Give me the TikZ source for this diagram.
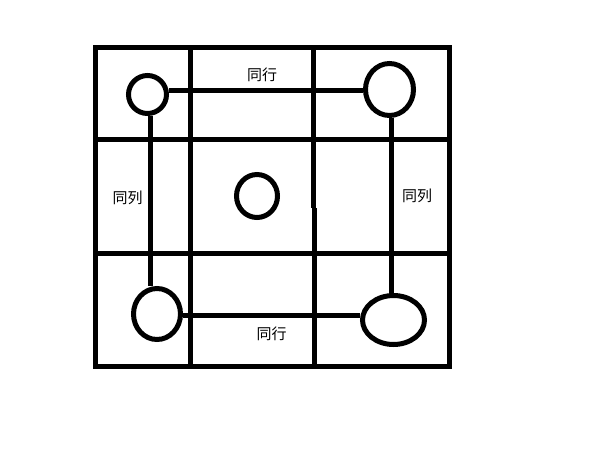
\documentclass[tikz,border=0pt]{standalone}
\usepackage{fontspec}
\newfontfamily\cjk{Noto Sans CJK SC}
\usetikzlibrary{shapes.geometric}
\begin{document}
\begin{tikzpicture}[x=1pt,y=-1pt,
  gridline/.style={line width=5pt},
  ring/.style={draw,ellipse,line width=5pt,inner sep=0pt},
  link/.style={line width=5pt},
  lbl/.style={inner sep=0pt,font=\cjk\fontsize{15}{18}\selectfont}]
\useasboundingbox (0,0) rectangle (613,450);
% grid
\draw[gridline] (95.5,47.5) rectangle (449.5,366.5);
\draw[gridline] (95.5,139.5) -- (449.5,139.5);
\draw[gridline] (95.5,253.5) -- (449.5,253.5);
\draw[gridline] (190.5,47.5) -- (190.5,369);
\draw[gridline] (313.5,47.5) -- (313.5,208);
\draw[gridline] (314.5,208) -- (314.5,366.5);
% rings
\node[ring,minimum width=38pt,minimum height=38pt] (tl) at (147.5,94.5) {};
\node[ring,minimum width=48pt,minimum height=52pt] (tr) at (389.5,89.5) {};
\node[ring,minimum width=41pt,minimum height=43pt] (c) at (257,196) {};
\node[ring,minimum width=47pt,minimum height=51pt] (bl) at (157,314) {};
\node[ring,minimum width=62pt,minimum height=49pt] (br) at (393.5,320) {};
% links
\draw[link] (tl.10) -- (tl.10 -| tr.west);
\draw[link] (tl.-81) -- (tl.-81 |- bl.north);
\draw[link] (tr.-86) -- (tr.-86 |- br.north);
\draw[link] (bl.-3) -- (bl.-3 -| br.west);
% labels
\node[lbl] (t1) at (262,75) {同行};
\node[lbl] (t2) at (127.5,198) {同列};
\node[lbl] (t3) at (417,195.5) {同列};
\node[lbl] (t4) at (271.5,333.5) {同行};
\end{tikzpicture}
\end{document}
